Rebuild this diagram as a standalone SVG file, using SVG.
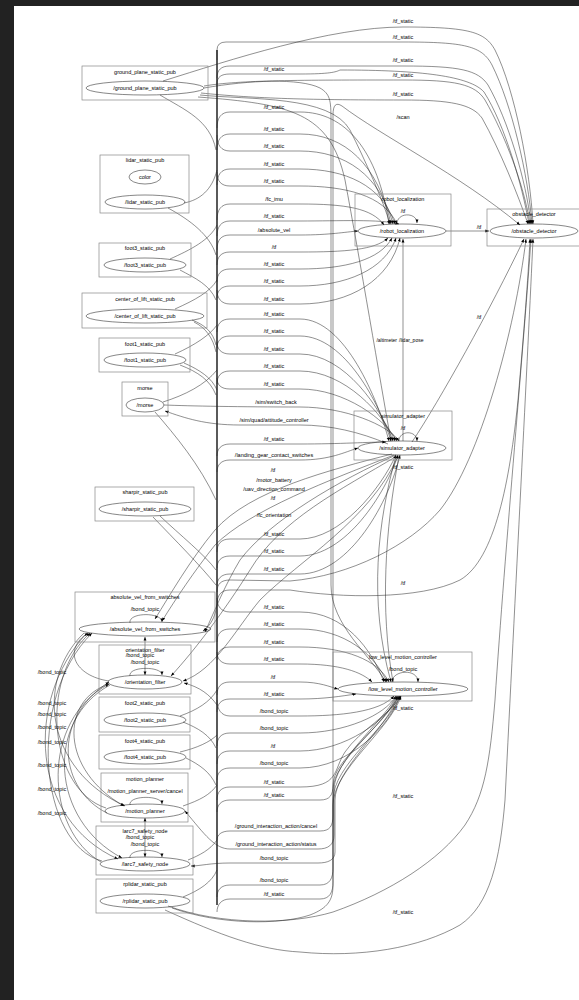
<svg xmlns="http://www.w3.org/2000/svg" width="579" height="1000" viewBox="0 0 579 1000">
<defs>
<marker id="ah" viewBox="0 0 10 10" refX="10" refY="5" markerWidth="3.6" markerHeight="3.6" markerUnits="userSpaceOnUse" orient="auto-start-reverse"><path d="M0,1 L10,5 L0,9z" fill="#000"/></marker>
</defs>
<style>
.e{fill:none;stroke:#222;stroke-width:.5}
.a{marker-end:url(#ah)}
.s{marker-start:url(#ah)}
.bus{fill:none;stroke:#000;stroke-width:1.3}
.box{fill:none;stroke:#888;stroke-width:.7}
.nd{fill:none;stroke:#222;stroke-width:.55}
text{font-family:"Liberation Sans",Arial,sans-serif;font-size:5.5px;text-anchor:middle;fill:#000}
</style>
<rect width="579" height="1000" fill="#222"/>
<rect x="14" y="6" width="565" height="994" fill="#fff"/>

<g id="connectors">
<path class="bus" d="M217,905 L217,50"/>
<path class="e a" d="M163,81 C230,60 330,27 403,27 C470,27 485,32 495,50 C515,90 530,170 533,224"/>
<path class="e a" d="M217,60 L217,50 Q217,42 226,42 L403,42 C465,42 482,46 492,65 C512,105 528,175 532,224"/>
<path class="e a" d="M217,78 C217,70 221,66 230,66 L403,66 C460,66 478,70 488,85 C508,120 526,180 531,224"/>
<path class="e a" d="M204,86 C240,80 300,80 403,80 C455,80 475,84 485,100 C505,135 524,185 530,224"/>
<path class="e a" d="M201,93 C250,98 300,100 403,100 C450,100 472,104 482,118 C500,150 518,195 528,224"/>
<path class="e a" d="M217,84 C217,77 221,74 230,74 L300,74 C330,74 336,72 340,70 C420,70 470,76 484,92 C505,125 522,185 529,224"/>
<path class="e a" d="M172,908 C220,925 280,925 310,915 C328,908 333,900 333,885 L333,115 C333,105 336,102 342,106 C380,135 460,175 520,225"/>
<path class="e a" d="M204,88 C250,80 300,78 320,88 C330,94 331,100 331,120 L331,585 C331,625 370,655 386,682"/>
<path class="e a" d="M200,95 C250,100 330,95 350,130 C365,160 383,200 390,224"/>
<path class="e a" d="M198,97 C290,104 330,112 345,180 C360,260 380,380 391,441"/>
<path class="e a" d="M217,128 C217,118 221,112 230,112 L300,112 C345,112 378,150 389,224"/>
<path class="e a" d="M217,150 C217,140 221,134 230,134 L300,134 C345,134 378,165 391,224"/>
<path class="e a" d="M217,135 C217,145 221,151 230,151 L300,151 C345,151 380,175 393,224"/>
<path class="e a" d="M217,185 C217,175 221,169 230,169 L300,169 C345,169 382,185 395,224"/>
<path class="e a" d="M217,172 C217,181 221,186 230,186 L300,186 C345,186 384,195 397,224"/>
<path class="e a" d="M217,220 C217,210 221,204 230,204 L300,204 C345,204 372,208 384,225"/>
<path class="e a" d="M217,236 C217,227 221,221 230,221 L300,221 C340,221 380,219 399,224"/>
<path class="e a" d="M217,250 C217,240 221,235 230,235 L300,235 C330,235 345,232 358,231"/>
<path class="e a" d="M217,265 C217,257 221,252 230,252 L300,252 C345,252 375,250 388,238"/>
<path class="e a" d="M217,282 C217,274 221,269 230,269 L300,269 C345,269 380,260 392,238"/>
<path class="e a" d="M217,298 C217,291 221,286 230,286 L300,286 C345,286 385,270 396,238"/>
<path class="e a" d="M217,290 C217,298 221,304 230,304 L300,304 C350,304 390,280 400,238"/>
<path class="e a" d="M217,332 C217,324 221,319 230,319 L300,319 C345,319 378,400 389,441"/>
<path class="e a" d="M217,348 C217,341 221,336 230,336 L300,336 C345,336 380,405 391,441"/>
<path class="e a" d="M217,342 C217,349 221,354 230,354 L300,354 C345,354 382,410 393,441"/>
<path class="e a" d="M217,384 C217,376 221,371 230,371 L300,371 C345,371 384,415 395,441"/>
<path class="e a" d="M217,378 C217,385 221,389 230,389 L300,389 C345,389 386,420 397,441"/>
<path class="e a" d="M164,405 C190,406 240,407 300,407 C345,407 388,425 399,441"/>
<path class="e a" d="M388,444 C360,432 330,425 300,425 L240,425 C205,425 185,418 165,411"/>
<path class="e a" d="M217,456 C217,449 221,444 230,444 L300,444 C340,444 370,442 386,442"/>
<path class="e a" d="M217,472 C217,465 221,460 230,460 L300,460 C330,460 345,452 358,448"/>
<path class="e a" d="M392,454 C330,470 250,490 215,530 C190,560 170,595 155,619"/>
<path class="e a" d="M394,455 C330,480 250,510 215,545 C195,570 175,600 162,621"/>
<path class="e a" d="M396,455 C340,480 270,520 240,560 C225,585 215,610 205,632"/>
<path class="e a" d="M397,456 C340,490 280,520 250,570 C225,610 195,650 171,676"/>
<path class="e a" d="M398,456 C370,520 300,560 260,600 C235,630 215,670 183,681"/>
<path class="e a" d="M217,552 C217,544 221,539 230,539 L300,539 C340,539 380,490 396,455"/>
<path class="e a" d="M217,568 C217,561 221,556 230,556 L300,556 C345,556 385,495 398,455"/>
<path class="e a" d="M217,586 C217,579 221,574 230,574 L300,574 C350,574 390,500 400,455"/>
<path class="e a" d="M403,441 L403,239"/>
<path class="e a" d="M412,442 C440,400 490,310 524,239"/>
<path class="e a" d="M217,605 C217,595 221,590 230,590 L290,590 C340,598 420,600 460,580 C495,560 510,480 518,400 C524,330 528,280 530,239"/>
<path class="e a" d="M217,592 C217,584 221,580 230,580 L290,581 C350,576 410,545 440,510 C480,460 515,330 526,239"/>
<path class="e a" d="M165,910 C220,935 260,950 300,952 C360,958 420,948 460,925 C490,905 500,860 505,800 C515,600 528,350 533,239"/>
<path class="e a" d="M168,906 C220,925 290,925 333,912 C390,892 440,860 465,825 C485,795 490,760 495,700 C505,550 525,330 531,239"/>
<path class="e a" d="M446,231 L489,231"/>
<path class="e a" d="M217,598 C217,606 221,612 230,612 L300,612 C345,612 372,650 384,682"/>
<path class="e a" d="M217,642 C217,634 221,629 230,629 L300,629 C345,629 375,655 387,682"/>
<path class="e a" d="M217,660 C217,652 221,647 230,647 L300,647 C345,647 378,660 389,682"/>
<path class="e a" d="M217,652 C217,659 221,664 230,664 L300,664 C340,664 362,672 372,682"/>
<path class="e a" d="M217,695 C217,687 221,682 230,682 L300,682 C320,682 330,687 338,689"/>
<path class="e a" d="M217,712 C217,704 221,699 230,699 L300,699 C325,699 342,696 356,694"/>
<path class="e a" d="M396,456 C378,520 368,600 391,682"/>
<path class="e a" d="M399,456 C385,530 380,610 393,682"/>
<path class="e a" d="M217,700 C217,709 221,716 230,716 L300,716 C340,716 380,712 394,696"/>
<path class="e a" d="M217,746 C217,738 221,733 230,733 L300,733 C345,733 385,715 396,696"/>
<path class="e a" d="M217,764 C217,756 221,751 230,751 L300,751 C345,751 388,720 398,696"/>
<path class="e a" d="M217,780 C217,773 221,768 230,768 L300,768 C350,768 390,725 400,696"/>
<path class="e a" d="M217,800 C217,792 221,787 230,787 L300,787 C340,787 333,770 345,752 C360,730 390,715 401,696"/>
<path class="e a" d="M217,812 C217,805 221,800 230,800 L320,800 C330,800 333,795 333,785 C333,760 380,730 399,696"/>
<path class="e a" d="M217,840 C217,835 221,831 230,831 L320,831 C330,831 333,826 333,815 L333,790 C333,760 385,725 397,696"/>
<path class="e a" d="M396,697 C380,725 334,760 334,790 L334,835 C334,845 328,849 318,849 L230,849 C215,849 205,835 185,811"/>
<path class="e a" d="M398,697 C385,730 335,770 335,800 L335,852 C335,860 328,863 318,863 L230,863 C210,863 200,866 191,866"/>
<path class="e a" d="M217,897 C217,890 221,885 230,885 L320,885 C330,885 333,878 333,868 L333,800 C333,765 388,728 400,696"/>
<path class="e a" d="M217,912 C217,905 221,899 230,899 L320,899 C330,899 333,892 333,882 L333,805 C333,770 390,730 401,696"/>
<path class="e" d="M160,95 C185,110 210,120 216,150"/>
<path class="e" d="M184,203 C200,200 212,190 217,170"/>
<path class="e" d="M168,208 C190,220 210,235 216,255"/>
<path class="e" d="M170,259 C190,250 210,240 217,225"/>
<path class="e" d="M180,270 C195,278 210,285 216,300"/>
<path class="e" d="M175,309 C195,300 210,292 217,280"/>
<path class="e" d="M192,320 C205,325 213,332 216,345"/>
<path class="e" d="M194,322 C206,328 213,338 216,352"/>
<path class="e" d="M175,354 C195,345 210,335 217,325"/>
<path class="e" d="M180,365 C198,372 210,380 216,395"/>
<path class="e" d="M184,363 C200,370 212,378 217,390"/>
<path class="e" d="M163,402 C185,395 205,385 217,370"/>
<path class="e" d="M155,412 C175,435 200,465 216,500"/>
<path class="e" d="M153,517 C175,540 200,565 216,585"/>
<path class="e" d="M160,516 C180,535 205,555 216,570"/>
<path class="e a" d="M217,605 C215,618 210,626 203,631"/>
<path class="e a" d="M217,705 C210,695 200,687 184,683"/>
<path class="e" d="M180,716 C197,710 210,702 217,690"/>
<path class="e" d="M183,722 C198,728 210,735 216,748"/>
<path class="e" d="M180,752 C197,748 210,742 217,735"/>
<path class="e" d="M186,758 C200,765 210,772 216,785"/>
<path class="e" d="M183,806 C200,800 210,795 217,785"/>
<path class="e" d="M188,860 C200,855 210,850 217,840"/>
<path class="e" d="M183,897 C200,890 212,882 217,870"/>
<path class="e a s" d="M145,637 L145,675"/>
<path class="e a s" d="M145,818 L145,857"/>
<path class="e a" d="M397,224 C397,212 417,212 417,223"/>
<path class="e a" d="M399,441 C399,430 417,430 417,441"/>
<path class="e a" d="M392,682 C392,670 418,668 418,682"/>
<path class="e a" d="M130,623 C128,612 162,612 162,622"/>
<path class="e a" d="M130,676 C128,666 162,666 162,675"/>
<path class="e a" d="M130,805 C128,795 162,795 162,804"/>
<path class="e a" d="M130,858 C128,848 162,848 162,857"/>
<path class="e a" d="M109,681 C75,676 62,650 88,633"/>
<path class="e a" d="M106,808 C50,790 38,680 90,633"/>
<path class="e a" d="M102,861 C40,845 25,700 92,633"/>
<path class="e a" d="M101,862 C45,830 40,720 109,684"/>
<path class="e a" d="M107,813 C60,790 50,720 109,682"/>
<path class="e a" d="M84,633 C35,680 45,770 125,806"/>
<path class="e a" d="M86,634 C25,700 30,820 118,859"/>
<path class="e a" d="M109,684 C60,700 60,770 124,806"/>
<path class="e a" d="M110,685 C45,720 50,820 122,858"/>
</g>

<g id="edge-labels">
<text x="403" y="23">/tf_static</text>
<text x="403" y="39">/tf_static</text>
<text x="403" y="62">/tf_static</text>
<text x="403" y="77">/tf_static</text>
<text x="403" y="96">/tf_static</text>
<text x="403" y="119">/scan</text>
<text x="274" y="71">/tf_static</text>
<text x="274" y="109">/tf_static</text>
<text x="274" y="131">/tf_static</text>
<text x="274" y="148">/tf_static</text>
<text x="274" y="166">/tf_static</text>
<text x="274" y="183">/tf_static</text>
<text x="274" y="201">/fc_imu</text>
<text x="274" y="218">/tf_static</text>
<text x="274" y="232">/absolute_vel</text>
<text x="274" y="249">/tf</text>
<text x="274" y="266">/tf_static</text>
<text x="274" y="283">/tf_static</text>
<text x="274" y="301">/tf_static</text>
<text x="274" y="316">/tf_static</text>
<text x="274" y="333">/tf_static</text>
<text x="274" y="351">/tf_static</text>
<text x="274" y="368">/tf_static</text>
<text x="274" y="386">/tf_static</text>
<text x="276" y="404">/sim/switch_back</text>
<text x="274" y="422">/sim/quad/attitude_controller</text>
<text x="274" y="441">/tf_static</text>
<text x="274" y="457">/landing_gear_contact_switches</text>
<text x="273" y="472">/tf</text>
<text x="274" y="482">/motor_battery</text>
<text x="274" y="491">/uav_direction_command</text>
<text x="273" y="500">/tf</text>
<text x="274" y="517">/fc_orientation</text>
<text x="274" y="536">/tf_static</text>
<text x="274" y="553">/tf_static</text>
<text x="274" y="571">/tf_static</text>
<text x="274" y="609">/tf_static</text>
<text x="274" y="626">/tf_static</text>
<text x="274" y="644">/tf_static</text>
<text x="274" y="661">/tf_static</text>
<text x="273" y="679">/tf</text>
<text x="274" y="696">/tf_static</text>
<text x="274" y="713">/bond_topic</text>
<text x="274" y="730">/bond_topic</text>
<text x="273" y="748">/tf</text>
<text x="274" y="765">/bond_topic</text>
<text x="274" y="784">/tf_static</text>
<text x="274" y="797">/tf_static</text>
<text x="276" y="828">/ground_interaction_action/cancel</text>
<text x="276" y="846">/ground_interaction_action/status</text>
<text x="274" y="860">/bond_topic</text>
<text x="274" y="882">/bond_topic</text>
<text x="274" y="896">/tf_static</text>
<text x="479" y="229">/tf</text>
<text x="479" y="319">/tf</text>
<text x="397" y="342" style="text-anchor:end;font-size:5px">/altimeter</text>
<text x="399" y="342" style="text-anchor:start;font-size:5px">/lidar_pose</text>
<text x="403" y="469">/tf_static</text>
<text x="403" y="585">/tf</text>
<text x="403" y="710">/tf_static</text>
<text x="403" y="798">/tf_static</text>
<text x="403" y="914">/tf_static</text>
<text x="52" y="674">/bond_topic</text>
<text x="52" y="705">/bond_topic</text>
<text x="52" y="716">/bond_topic</text>
<text x="52" y="729">/bond_topic</text>
<text x="52" y="744">/bond_topic</text>
<text x="52" y="767">/bond_topic</text>
<text x="52" y="791">/bond_topic</text>
<text x="52" y="815">/bond_topic</text>
</g>

<g id="ground_plane_static_pub">
<rect class="box" x="82" y="66" width="126" height="34"/>
<text x="145" y="74">ground_plane_static_pub</text>
<ellipse class="nd" cx="145" cy="88" rx="59" ry="7"/>
<text x="145" y="90">/ground_plane_static_pub</text>
</g>
<g id="lidar_static_pub">
<rect class="box" x="100" y="155" width="89" height="58"/>
<text x="145" y="162">lidar_static_pub</text>
<ellipse class="nd" cx="145" cy="177" rx="16" ry="7"/>
<text x="145" y="179">color</text>
<ellipse class="nd" cx="145" cy="202" rx="40" ry="7"/>
<text x="145" y="204">/lidar_static_pub</text>
</g>
<g id="foot3_static_pub">
<rect class="box" x="99" y="243" width="92" height="34"/>
<text x="145" y="250">foot3_static_pub</text>
<ellipse class="nd" cx="145" cy="265" rx="41" ry="7"/>
<text x="145" y="267">/foot3_static_pub</text>
</g>
<g id="center_of_lift_static_pub">
<rect class="box" x="82" y="293" width="125" height="35"/>
<text x="145" y="301">center_of_lift_static_pub</text>
<ellipse class="nd" cx="145" cy="316" rx="59" ry="7"/>
<text x="145" y="318">/center_of_lift_static_pub</text>
</g>
<g id="foot1_static_pub">
<rect class="box" x="99" y="338" width="91" height="34"/>
<text x="145" y="346">foot1_static_pub</text>
<ellipse class="nd" cx="145" cy="360" rx="41" ry="7"/>
<text x="145" y="362">/foot1_static_pub</text>
</g>
<g id="morse">
<rect class="box" x="122" y="382" width="46" height="34"/>
<text x="145" y="390">morse</text>
<ellipse class="nd" cx="145" cy="405" rx="19" ry="7"/>
<text x="145" y="407">/morse</text>
</g>
<g id="sharpir_static_pub">
<rect class="box" x="95" y="487" width="99" height="34"/>
<text x="145" y="494">sharpir_static_pub</text>
<ellipse class="nd" cx="145" cy="509" rx="46" ry="7"/>
<text x="145" y="511">/sharpir_static_pub</text>
</g>
<g id="absolute_vel_from_switches">
<rect class="box" x="75" y="592" width="140" height="50"/>
<text x="145" y="599">absolute_vel_from_switches</text>
<text x="145" y="611">/bond_topic</text>
<ellipse class="nd" cx="145" cy="629" rx="66" ry="7"/>
<text x="145" y="631">/absolute_vel_from_switches</text>
</g>
<g id="orientation_filter">
<rect class="box" x="99" y="645" width="92" height="49"/>
<text x="145" y="652">orientation_filter</text>
<text x="140" y="657">/bond_topic</text>
<text x="145" y="664">/bond_topic</text>
<ellipse class="nd" cx="145" cy="682" rx="37" ry="7"/>
<text x="145" y="684">/orientation_filter</text>
</g>
<g id="foot2_static_pub">
<rect class="box" x="99" y="697" width="91" height="35"/>
<text x="145" y="705">foot2_static_pub</text>
<ellipse class="nd" cx="145" cy="720" rx="41" ry="7"/>
<text x="145" y="722">/foot2_static_pub</text>
</g>
<g id="foot4_static_pub">
<rect class="box" x="99" y="735" width="91" height="34"/>
<text x="145" y="743">foot4_static_pub</text>
<ellipse class="nd" cx="145" cy="757" rx="41" ry="7"/>
<text x="145" y="759">/foot4_static_pub</text>
</g>
<g id="motion_planner">
<rect class="box" x="101" y="773" width="87" height="49"/>
<text x="145" y="781">motion_planner</text>
<text x="145" y="793">/motion_planner_server/cancel</text>
<ellipse class="nd" cx="145" cy="811" rx="40" ry="7"/>
<text x="145" y="813">/motion_planner</text>
</g>
<g id="larc7_safety_node">
<rect class="box" x="96" y="826" width="97" height="49"/>
<text x="145" y="833">larc7_safety_node</text>
<text x="140" y="839">/bond_topic</text>
<text x="145" y="846">/bond_topic</text>
<ellipse class="nd" cx="145" cy="864" rx="45" ry="7"/>
<text x="145" y="866">/larc7_safety_node</text>
</g>
<g id="rplidar_static_pub">
<rect class="box" x="96" y="879" width="97" height="34"/>
<text x="145" y="886">rplidar_static_pub</text>
<ellipse class="nd" cx="145" cy="901" rx="45" ry="7"/>
<text x="145" y="903">/rplidar_static_pub</text>
</g>
<g id="robot_localization">
<rect class="box" x="355" y="194" width="96" height="52"/>
<text x="403" y="201">robot_localization</text>
<text x="403" y="213">/tf</text>
<ellipse class="nd" cx="402" cy="231" rx="44" ry="7"/>
<text x="402" y="233">/robot_localization</text>
</g>
<g id="obstacle_detector">
<rect class="box" x="487" y="209" width="95" height="37"/>
<text x="534" y="216">obstacle_detector</text>
<ellipse class="nd" cx="534" cy="231" rx="44" ry="7"/>
<text x="534" y="233">/obstacle_detector</text>
</g>
<g id="simulator_adapter">
<rect class="box" x="354" y="411" width="98" height="49"/>
<text x="403" y="418">simulator_adapter</text>
<text x="403" y="430">/tf</text>
<ellipse class="nd" cx="402" cy="448" rx="44" ry="7"/>
<text x="402" y="450">/simulator_adapter</text>
</g>
<g id="low_level_motion_controller">
<rect class="box" x="333" y="652" width="139" height="49"/>
<text x="403" y="659">low_level_motion_controller</text>
<text x="403" y="671">/bond_topic</text>
<ellipse class="nd" cx="403" cy="689" rx="65" ry="7"/>
<text x="403" y="691">/low_level_motion_controller</text>
</g>
</svg>
